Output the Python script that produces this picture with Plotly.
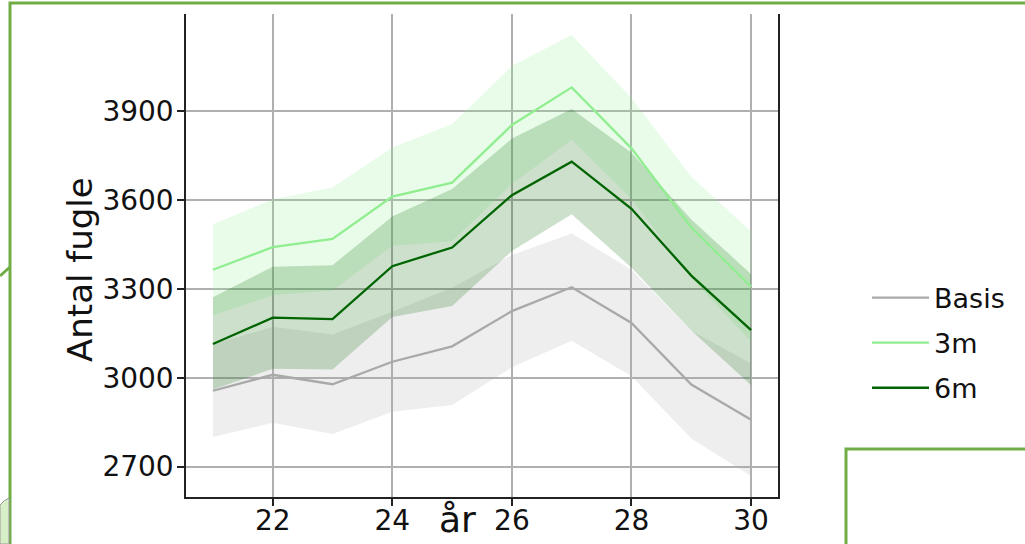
import plotly.graph_objects as go

# ---------------- data ----------------
years = [21, 22, 23, 24, 25, 26, 27, 28, 29, 30]

basis_mean = [2956, 3010, 2978, 3054, 3106, 3225, 3306, 3185, 2977, 2858]
basis_lower = [2800, 2848, 2810, 2885, 2908, 3035, 3125, 3005, 2795, 2668]
basis_upper = [3112, 3172, 3146, 3223, 3304, 3415, 3487, 3365, 3159, 3048]

m3_mean = [3365, 3441, 3469, 3612, 3659, 3854, 3981, 3775, 3508, 3308]
m3_upper = [3519, 3603, 3643, 3778, 3857, 4053, 4158, 3945, 3679, 3494]
m3_lower = [3211, 3279, 3295, 3446, 3461, 3655, 3804, 3605, 3337, 3122]

m6_mean = [3114, 3203, 3198, 3377, 3440, 3617, 3730, 3571, 3345, 3161]
m6_upper = [3272, 3375, 3380, 3545, 3638, 3808, 3908, 3760, 3535, 3350]
m6_lower = [2960, 3030, 3028, 3205, 3242, 3428, 3552, 3372, 3160, 2975]

series_names = ["Basis", "3m", "6m"]
x_ticks = [22, 24, 26, 28, 30]
y_ticks = [2700, 3000, 3300, 3600, 3900]
x_title = "år"
y_title = "Antal fugle"

# ---------------- styling ----------------
W, H = 1025, 544
L, R, T, B = 186, 778, 14, 497
FONT = "DejaVu Sans"
SLIDE_GREEN = "#70ad47"


def px(x):
    return (x - L) / (R - L)


def py(y):
    return (B - y) / (B - T)


styles = [
    ("#a9a9a9", "rgba(169,169,169,0.2)"),
    ("#90ee90", "rgba(144,238,144,0.2)"),
    ("#006400", "rgba(0,100,0,0.2)"),
]
means = [basis_mean, m3_mean, m6_mean]
lowers = [basis_lower, m3_lower, m6_lower]
uppers = [basis_upper, m3_upper, m6_upper]

fig = go.Figure()

for name, (lc, fc), lo, up in zip(series_names, styles, lowers, uppers):
    fig.add_trace(go.Scatter(
        x=years + years[::-1], y=up + lo[::-1],
        fill="toself", fillcolor=fc, line=dict(width=0),
        mode="lines", hoverinfo="skip", showlegend=False,
    ))

for name, (lc, fc), m in zip(series_names, styles, means):
    fig.add_trace(go.Scatter(
        x=years, y=m, mode="lines", name=name,
        line=dict(color=lc, width=2.3), legendgroup=name,
    ))

axis_common = dict(
    showgrid=True, gridcolor="#b0b0b0", gridwidth=1.5,
    showline=True, linecolor="#222222", linewidth=1.5,
    ticks="outside", ticklen=7, tickwidth=1.5, tickcolor="#222222",
    tickfont=dict(family=FONT, size=28, color="#111111"),
    zeroline=False, automargin=False,
)

fig.update_xaxes(range=[20.55, 30.45], tickvals=x_ticks, mirror=False,
                 ticklabelstandoff=-9, **axis_common)
fig.update_yaxes(range=[2597, 4229], tickvals=y_ticks, mirror=True,
                 ticklabelstandoff=-2, **axis_common)

shapes = [
    # slide decorations (outline boxes), kept inside the page
    dict(type="path", xref="paper", yref="paper",
         path=f"M {px(10)},{py(544)} L {px(10)},{py(3)} L {px(1025)},{py(3)}",
         line=dict(color=SLIDE_GREEN, width=3)),
    dict(type="path", xref="paper", yref="paper",
         path=f"M {px(846)},{py(544)} L {px(846)},{py(449)} L {px(1025)},{py(449)}",
         line=dict(color=SLIDE_GREEN, width=3)),
    dict(type="line", xref="paper", yref="paper",
         x0=px(0), y0=py(276), x1=px(10), y1=py(267),
         line=dict(color=SLIDE_GREEN, width=3)),
    dict(type="path", xref="paper", yref="paper",
         path=f"M {px(0)},{py(505)} Q {px(4)},{py(500)} {px(9)},{py(498)} L {px(9)},{py(544)} L {px(0)},{py(544)} Z",
         fillcolor="#d6efc6", line=dict(color="#9a9a9a", width=1)),
]

annotations = [
    dict(text=y_title, xref="paper", yref="paper", x=px(80), y=py(270),
         textangle=-90, showarrow=False, xanchor="center", yanchor="middle",
         font=dict(family=FONT, size=34, color="#111111")),
    dict(text=x_title, xref="paper", yref="paper", x=px(457), y=py(519),
         showarrow=False, xanchor="center", yanchor="middle",
         font=dict(family=FONT, size=36, color="#111111")),
]

fig.update_layout(
    width=W, height=H,
    margin=dict(l=L, r=W - R, t=T, b=H - B, pad=0, autoexpand=False),
    paper_bgcolor="white", plot_bgcolor="white",
    font=dict(family=FONT, color="#111111"),
    showlegend=True,
    legend=dict(
        x=px(867), y=py(343), xanchor="left", yanchor="middle",
        font=dict(family=FONT, size=27, color="#111111"),
        itemwidth=57, tracegroupgap=7, bgcolor="rgba(0,0,0,0)",
    ),
    shapes=shapes,
    annotations=annotations,
)

fig.write_html("out.html", config={"displayModeBar": False},
               post_script="document.body.style.margin='0px';")
